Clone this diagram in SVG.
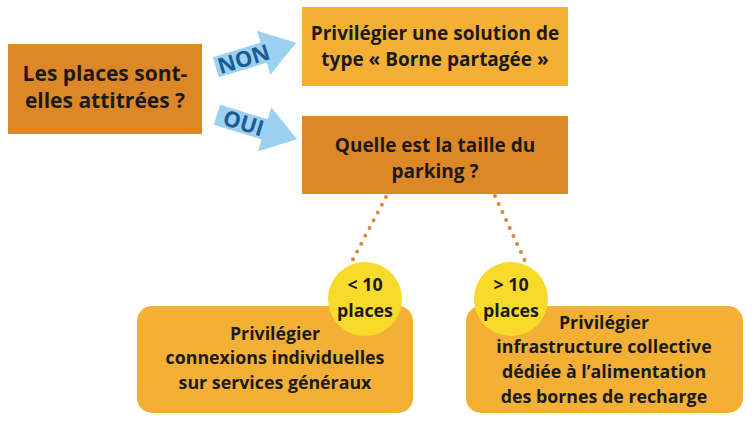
<svg xmlns="http://www.w3.org/2000/svg" width="754" height="422" viewBox="0 0 754 422">
<style>
.t{font-family:"Open Sans","Noto Sans","Liberation Sans",sans-serif;font-weight:700;fill:#1a1a1a;text-anchor:middle}
.big{font-size:19px}
.xl{font-size:21px}
.sm{font-size:17.8px}
.dark{fill:#DE8726}
.light{fill:#F4B034}
.circ{fill:#F8DA2B}
.arrow{fill:#9DD1F1}
.lbl{font-family:"Open Sans","Noto Sans","Liberation Sans",sans-serif;font-weight:700;font-size:22px;fill:#1C5B94;text-anchor:middle}
.dots{stroke:#D4893A;stroke-width:4;stroke-linecap:round;stroke-dasharray:0 8.8;fill:none}
</style>
<defs>
<path id="arr" d="M-42,-10.5 L8,-10.5 L8,-23 L42,0 L8,23 L8,10.5 L-42,10.5 Z"/>
</defs>
<rect width="754" height="422" fill="#fff"/>
<g id="connectors">
<line class="dots" x1="386" y1="197" x2="352" y2="261"/>
<line class="dots" x1="495" y1="196" x2="525" y2="261"/>
<g id="arrow-non" transform="translate(256,55) rotate(-17)">
<use href="#arr" class="arrow"/>
<text class="lbl" x="-13" y="8">NON</text>
</g>
<g id="arrow-oui" transform="translate(257,127) rotate(17)">
<use href="#arr" class="arrow"/>
<text class="lbl" x="-14" y="8">OUI</text>
</g>
</g>
<g id="q1">
<rect class="dark" x="8" y="44" width="194" height="90"/>
<text class="t xl" x="105" y="81">Les places sont-</text>
<text class="t xl" x="105" y="108">elles attitrées ?</text>
</g>
<g id="borne">
<rect class="light" x="302" y="7" width="266" height="79"/>
<text class="t big" x="435" y="40">Privilégier une solution de</text>
<text class="t big" x="435" y="66">type « Borne partagée »</text>
</g>
<g id="q2">
<rect class="dark" x="302" y="116" width="266" height="78"/>
<text class="t big" x="435" y="152">Quelle est la taille du</text>
<text class="t big" x="435" y="178">parking ?</text>
</g>
<g id="individuel">
<rect class="light" x="137" y="306" width="276" height="107" rx="15"/>
<text class="t sm" x="275" y="340">Privilégier</text>
<text class="t sm" x="275" y="364">connexions individuelles</text>
<text class="t sm" x="275" y="389">sur services généraux</text>
</g>
<g id="collectif">
<rect class="light" x="466" y="306" width="277" height="107" rx="15"/>
<text class="t sm" x="604" y="329">Privilégier</text>
<text class="t sm" x="604" y="353">infrastructure collective</text>
<text class="t sm" x="604" y="378">dédiée à l’alimentation</text>
<text class="t sm" x="604" y="403">des bornes de recharge</text>
</g>
<g id="lt10">
<circle class="circ" cx="365" cy="299" r="37"/>
<text class="t sm" x="365" y="291">&lt; 10</text>
<text class="t sm" x="365" y="317">places</text>
</g>
<g id="gt10">
<circle class="circ" cx="511" cy="299" r="37"/>
<text class="t sm" x="511" y="291">&gt; 10</text>
<text class="t sm" x="511" y="317">places</text>
</g>
</svg>
